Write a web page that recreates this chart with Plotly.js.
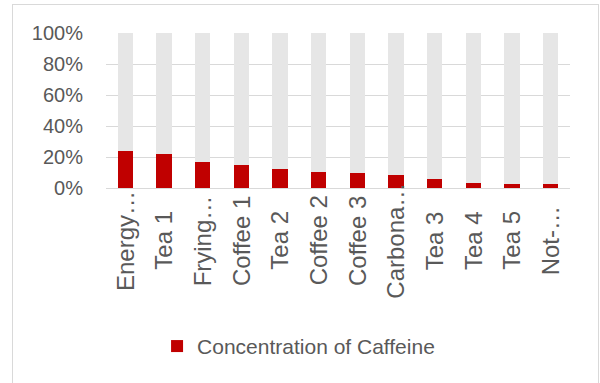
<!DOCTYPE html>
<html>
<head>
<meta charset="utf-8">
<script src="https://cdn.plot.ly/plotly-3.0.1.min.js"></script>
<style>
  html, body { margin: 0; padding: 0; background: #ffffff; }
  #frame { position: absolute; left: 12px; top: 4px; width: 585px; height: 420px; border: 1px solid #d9d9d9; }
  #chart { position: absolute; left: 0; top: 0; width: 600px; height: 383px; }
</style>
</head>
<body>
<div id="frame"></div>
<div id="chart"></div>
<script>
// Data
const categories = ["Energy…", "Tea 1", "Frying…", "Coffee 1", "Tea 2", "Coffee 2", "Coffee 3", "Carbona…", "Tea 3", "Tea 4", "Tea 5", "Not-…"];
const concentration = [24, 22, 17, 15, 12, 10.3, 9.7, 8.1, 6, 3.4, 2.8, 2.3];
const remainder = [76, 78, 83, 85, 88, 89.7, 90.3, 91.9, 94, 96.6, 97.2, 97.7];
const yTickValues = [0, 20, 40, 60, 80, 100];
const yTickLabels = ["0%", "20%", "40%", "60%", "80%", "100%"];
const seriesName = "Concentration of Caffeine";

const font = "Liberation Sans, Arial, sans-serif";
const textColor = "#595959";

const traces = [
  {
    type: "bar", x: categories, y: concentration, name: seriesName,
    marker: { color: "#c00000" }, hoverinfo: "skip"
  },
  {
    type: "bar", x: categories, y: remainder, name: "rest", showlegend: false,
    marker: { color: "#e6e6e6" }, hoverinfo: "skip"
  }
];

const annotations = categories.map(c => ({
  x: c, xref: "x", y: -0.34, yref: "paper",
  text: c, textangle: -90, showarrow: false,
  xanchor: "center", yanchor: "middle",
  font: { family: font, size: 24, color: textColor }
}));

const layout = {
  width: 600, height: 383,
  margin: { l: 106, r: 30, t: 33, b: 195 },
  paper_bgcolor: "rgba(0,0,0,0)",
  plot_bgcolor: "rgba(0,0,0,0)",
  barmode: "stack",
  bargap: 0.61,
  font: { family: font, color: textColor },
  xaxis: {
    type: "category", showticklabels: false, showgrid: false,
    showline: false, zeroline: false, ticks: ""
  },
  yaxis: {
    range: [0, 100], tickvals: yTickValues, ticktext: yTickLabels,
    showgrid: true, gridcolor: "#d9d9d9", gridwidth: 1,
    zeroline: true, zerolinecolor: "#d9d9d9", zerolinewidth: 1,
    showline: false, ticks: "",
    ticklabelstandoff: 22,
    tickfont: { family: font, size: 20, color: textColor }
  },
  showlegend: true,
  legend: {
    orientation: "h", x: 0.415, xanchor: "center", y: -1.022, yanchor: "middle",
    font: { family: font, size: 21, color: textColor },
    bgcolor: "rgba(0,0,0,0)"
  },
  annotations: annotations
};

Plotly.newPlot("chart", traces, layout, { staticPlot: true, displayModeBar: false });
</script>
</body>
</html>
